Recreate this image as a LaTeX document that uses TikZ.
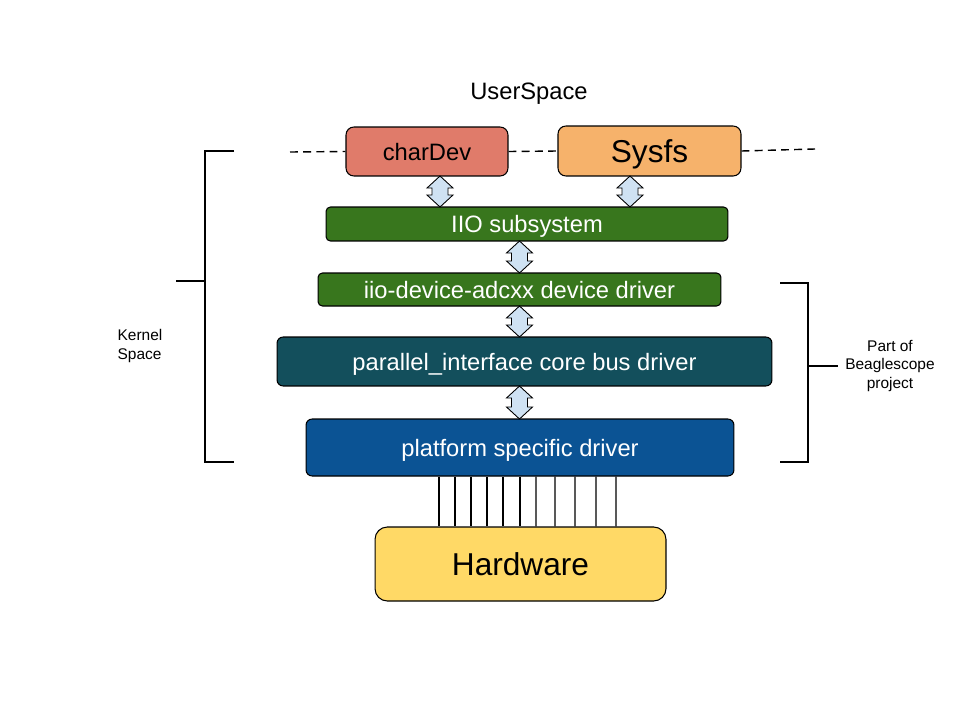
\documentclass[tikz,border=0pt]{standalone}
\usepackage{fontspec}
\setmainfont{Liberation Sans}
\usepackage{tikz}
\usetikzlibrary{calc}

\definecolor{chardevfill}{HTML}{E07B6A}
\definecolor{sysfsfill}{HTML}{F6B26B}
\definecolor{iiogreen}{HTML}{38761D}
\definecolor{busteal}{HTML}{134F5C}
\definecolor{platblue}{HTML}{0B5394}
\definecolor{hwyellow}{HTML}{FFD966}
\definecolor{arrowblue}{HTML}{CFE2F3}

\tikzset{
	layer/.style={draw, line width=0.6pt, inner sep=0pt, text depth=0pt, font=\fontsize{13.5}{16}\selectfont},
	userbox/.style={layer, rounded corners=4.5pt},
	kernbox/.style={layer, rounded corners=2.5pt, text=white},
	bracket/.style={line width=0.6pt},
	smalltext/.style={font=\fontsize{8.8}{10.8}\selectfont, inner sep=0pt},
	pics/dblarrow/.style={code={
		\pgfmathsetmacro{\hl}{#1/2}
		\pgfmathsetmacro{\hb}{#1/2-12}
		\draw[line width=0.5pt, fill=arrowblue] (0,-\hl) -- (13,-\hb) -- (8,-\hb) -- (8,\hb) -- (13,\hb) -- (0,\hl)
			-- (-13,\hb) -- (-8,\hb) -- (-8,-\hb) -- (-13,-\hb) -- cycle;
	}}
}

\begin{document}
\begin{tikzpicture}[x=0.02cm, y=-0.02cm]
		\useasboundingbox (0,0) rectangle (960,720);

		% user space
		\node[font=\fontsize{13.5}{16}\selectfont, text depth=0pt] (user) at (529,91) {UserSpace};
		\node[userbox, fill=chardevfill, minimum width=3.24cm, minimum height=0.98cm] (chardev) at (427,151.5) {charDev};
		\node[userbox, fill=sysfsfill, minimum width=3.66cm, minimum height=1cm, font=\fontsize{18}{21}\selectfont] (sysfs) at (649.5,151) {Sysfs};
		\coordinate (lft) at (290,152);
		\coordinate (rgt) at (815,149);
		\draw[line width=0.8pt, dash pattern=on 4.5pt off 3pt] (lft) -- (chardev.west);
		\draw[line width=0.8pt, dash pattern=on 4.5pt off 3pt] (chardev.east) -- (sysfs.west);
		\draw[line width=0.8pt, dash pattern=on 4.5pt off 3pt] (sysfs.east) -- (rgt);

		% kernel layers
		\node[kernbox, fill=iiogreen, minimum width=8.04cm, minimum height=0.68cm] (iio) at (527,224) {IIO subsystem};
		\node[kernbox, fill=iiogreen, minimum width=8.06cm, minimum height=0.66cm] (adc) at (519.5,289.5) {iio-device-adcxx device driver};
		\node[kernbox, fill=busteal, rounded corners=3.5pt, minimum width=9.9cm, minimum height=0.98cm] (pibus) at (524.5,361.5) {parallel\_interface core bus driver};
		\node[kernbox, fill=platblue, rounded corners=3.5pt, minimum width=8.56cm, minimum height=1.14cm] (platform) at (520,447.5) {platform specific driver};
		\node[layer, fill=hwyellow, rounded corners=7pt, minimum width=5.82cm, minimum height=1.48cm, font=\fontsize{18}{21}\selectfont] (hw) at (520.5,564) {Hardware};

		% double arrows
		\foreach \up/\dn/\dx/\len in {chardev/iio/13/31, sysfs/iio/-19.5/31, iio/adc/-7.5/32, adc/pibus/0/31, pibus/platform/-5/33}{
				\pic (a-\up) at ($(\up.south)!0.5!(\up.south |- \dn.north)+(\dx,0)$) {dblarrow=\len};
		}

		% bus wires
		\foreach \dx in {-81,-65,-49,-33,-17,0,16,35,55,76,96}{
				\draw[line width=0.8pt] ($(platform.south)+(\dx,0)$) -- ($(hw.north)+(\dx-0.5,0)$);
		}

		% brackets
		\draw[bracket] (234,151) -- (205,151) -- (205,462) -- (234,462);
		\draw[bracket] (176,281) -- (205,281);
		\node[smalltext, align=left] (kernel) at (140,346) {Kernel\\Space};
		\draw[bracket] (780,283) -- (808,283) -- (808,462) -- (780,462);
		\draw[bracket] (808,366) -- (838,366);
		\node[smalltext, align=center] (beagle) at (890,366) {Part of\\Beaglescope\\project};
\end{tikzpicture}
\end{document}
